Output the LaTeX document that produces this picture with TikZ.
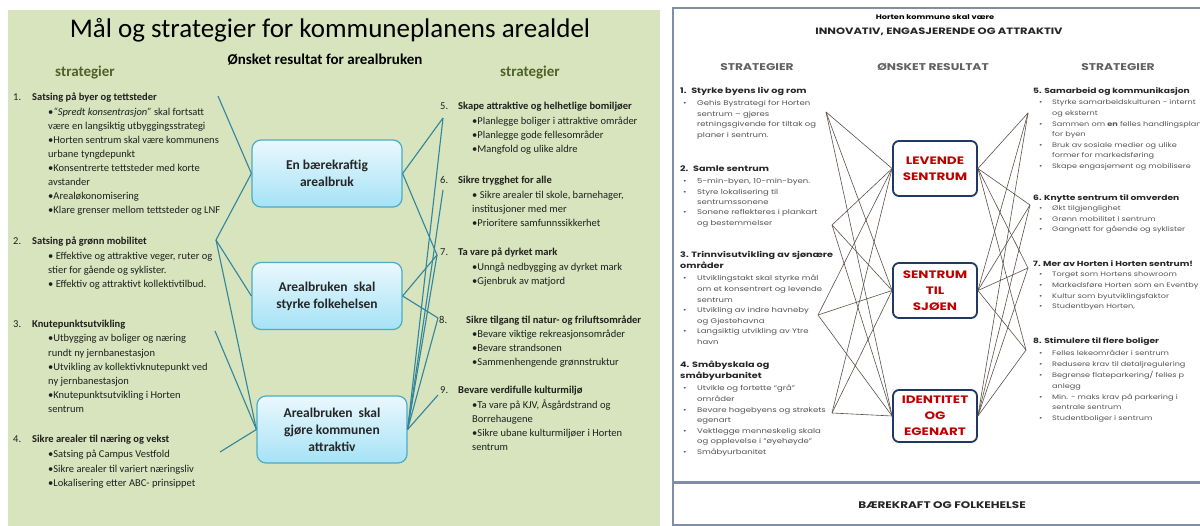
\documentclass[tikz,border=0pt]{standalone}
\usepackage{fontspec}
\setmainfont{Carlito}
\newfontfamily\gothic[FakeStretch=1.25]{Poppins}
\definecolor{bggreen}{HTML}{D7E4BD}
\definecolor{lineteal}{HTML}{31859C}
\definecolor{boxedge}{HTML}{4BACC6}
\definecolor{boxtop}{HTML}{EAF8FD}
\definecolor{boxbot}{HTML}{A5E2F6}
\definecolor{olive}{HTML}{4F6228}
\definecolor{navyedge}{HTML}{1F3864}
\definecolor{redtext}{HTML}{C00000}
\definecolor{brownline}{HTML}{5B4F4A}
\definecolor{framegray}{HTML}{7F8FA9}
\newcommand\tblock[6]{\foreach \t [count=\i] in {#6} {\node[#2] (#1-\i) at (#3,{#4+#5*(\i-1)}) {\t};}}
\newcommand\rblock[6]{\foreach \b/\t [count=\i] in {#6} {\node[rt] (#1-\i) at (#3,{#4+#5*(\i-1)}) {\t};
  \ifnum\b=1 \node[rt] (#1-b\i) at (#2,{#4+#5*(\i-1)}) {•};\fi}}
\tikzset{
  lt/.style={font=\fontsize{10.5}{12}\selectfont, inner sep=0pt, anchor=base west, text=black!88},
  lh/.style={lt, font=\bfseries\fontsize{10.5}{12}\selectfont},
  strat/.style={font=\bfseries\fontsize{15}{17}\selectfont, text=olive, anchor=base, inner sep=0pt},
  abox/.style={draw=boxedge, line width=1.2pt, rounded corners=9pt, top color=boxtop, bottom color=boxbot,
    minimum width=150pt, minimum height=67pt, align=center, font=\bfseries\fontsize{13.5}{17}\selectfont, text=black!85},
  tl/.style={draw=lineteal, line width=1.1pt},
  rt/.style={font=\gothic\fontsize{6.8}{8}\selectfont, inner sep=0pt, anchor=base west, text=black!68},
  rh/.style={font=\gothic\bfseries\fontsize{7.7}{9}\selectfont, inner sep=0pt, anchor=base west, text=black!85},
  rcol/.style={font=\gothic\bfseries\fontsize{9.8}{11}\selectfont, inner sep=0pt, anchor=base, text=black!62},
  rbox/.style={draw=navyedge, line width=1.8pt, rounded corners=6pt, fill=white, minimum width=84pt,
    align=center, text=redtext, font=\gothic\bfseries\fontsize{10.8}{16}\selectfont, inner sep=0pt},
  bl/.style={draw=brownline, line width=0.6pt},
  frame/.style={draw=framegray, line width=1.4pt}
}
\begin{document}
\begin{tikzpicture}[x=1pt,y=-1pt]
\useasboundingbox (0,0) rectangle (1200,526);
% ================= LEFT PANEL =================
\fill[bggreen] (8,10) rectangle (660,526);
\node[font=\fontsize{27}{30}\selectfont, anchor=base, inner sep=0pt] (title) at (330,38) {Mål og strategier for kommuneplanens arealdel};
\node[font=\bfseries\fontsize{15}{18}\selectfont, anchor=base, inner sep=0pt] (sub) at (325,65) {Ønsket resultat for arealbruken};
\node[strat] (sl) at (85,77) {strategier};
\node[strat] (sr) at (530,77) {strategier};

\node[lt] (n1) at (13,101) {1.}; \node[lh] (h1) at (32,101) {Satsing på byer og tettsteder};
\tblock{b1}{lt}{48}{116}{13.9}{{•\textit{“Spredt konsentrasjon”} skal fortsatt},{være en langsiktig utbyggingsstrategi},{•Horten sentrum skal være kommunens},{urbane tyngdepunkt},{•Konsentrerte tettsteder med korte},{avstander},{•Arealøkonomisering},{•Klare grenser mellom tettsteder og LNF}}
\node[lt] (n2) at (13,245) {2.}; \node[lh] (h2) at (32,245) {Satsing på grønn mobilitet};
\tblock{b2}{lt}{48}{260}{14}{{• Effektive og attraktive veger, ruter og},{stier for gående og syklister.},{• Effektiv og attraktivt kollektivtilbud.}}
\node[lt] (n3) at (13,328) {3.}; \node[lh] (h3) at (32,328) {Knutepunktsutvikling};
\tblock{b3}{lt}{48}{342}{14.2}{{•Utbygging av boliger og næring},{rundt ny jernbanestasjon},{•Utvikling av kollektivknutepunkt ved},{ny jernbanestasjon},{•Knutepunktsutvikling i Horten},{sentrum}}
\node[lt] (n4) at (13,443) {4.}; \node[lh] (h4) at (32,443) {Sikre arealer til næring og vekst};
\tblock{b4}{lt}{48}{458}{14}{{•Satsing på Campus Vestfold},{•Sikre arealer til variert næringsliv},{•Lokalisering etter ABC- prinsippet}}

\node[lt] (n5) at (440,110) {5.}; \node[lh] (h5) at (458,110) {Skape attraktive og helhetlige bomiljøer};
\tblock{b5}{lt}{472}{125}{14}{{•Planlegge boliger i attraktive områder},{•Planlegge gode fellesområder},{•Mangfold og ulike aldre}}
\node[lt] (n6) at (440,184) {6.}; \node[lh] (h6) at (458,184) {Sikre trygghet for alle};
\tblock{b6}{lt}{472}{199}{14}{{• Sikre arealer til skole, barnehager,},{institusjoner med mer},{•Prioritere samfunnssikkerhet}}
\node[lt] (n7) at (440,256) {7.}; \node[lh] (h7) at (458,256) {Ta vare på dyrket mark};
\tblock{b7}{lt}{472}{271}{14}{{•Unngå nedbygging av dyrket mark},{•Gjenbruk av matjord}}
\node[lt] (n8) at (439,324) {8.}; \node[lh] (h8) at (466,324) {Sikre tilgang til natur- og friluftsområder};
\tblock{b8}{lt}{472}{338}{14}{{•Bevare viktige rekreasjonsområder},{•Bevare strandsonen},{•Sammenhengende grønnstruktur}}
\node[lt] (n9) at (440,394) {9.}; \node[lh] (h9) at (458,394) {Bevare verdifulle kulturmiljø};
\tblock{b9}{lt}{472}{409}{14}{{•Ta vare på KJV, Åsgårdstrand og},{Borrehaugene},{•Sikre ubane kulturmiljøer i Horten},{sentrum}}

\node[abox] (g1) at (327,173.5) {En bærekraftig\\arealbruk};
\node[abox] (g2) at (327,296) {Arealbruken~ skal\\styrke folkehelsen};
\node[abox] (g3) at (332,429.5) {Arealbruken~ skal\\gjøre kommunen\\attraktiv};

\coordinate (p1) at (218,96);
\coordinate (p2) at (216,240);
\coordinate (p3) at (215,331);
\coordinate (p4) at (220,452);
\coordinate (p5) at (443,118);
\coordinate (p6) at (443,190);
\coordinate (p7) at (437,255);
\coordinate (p8) at (438,318);
\coordinate (p9) at (438,395);
\draw[tl] (p1) -- (g1.west);
\draw[tl] (p2) -- (g1.west);
\draw[tl] (p2) -- (g2.west);
\draw[tl] (p2) -- (g3.west);
\draw[tl] (p3) -- (g3.west);
\draw[tl] (p4) -- (g3.west);
\draw[tl] (g1.east) -- (p5);
\draw[tl] (g1.east) -- (p7);
\draw[tl] (g2.east) -- (p7);
\draw[tl] (g2.east) -- (p8);
\draw[tl] (g3.east) -- (p5);
\draw[tl] (g3.east) -- (p6);
\draw[tl] (g3.east) -- (p7);
\draw[tl] (g3.east) -- (p8);
\draw[tl] (g3.east) -- (p9);

% ================= RIGHT PANEL =================
\draw[frame] (673,8) rectangle (1210,525);
\draw[draw=framegray, line width=3pt] (673,483) -- (1210,483);
\node[font=\gothic\bfseries\fontsize{6.6}{8}\selectfont, anchor=base, inner sep=0pt] (rt1) at (935,20) {Horten kommune skal være};
\node[font=\gothic\bfseries\fontsize{9.2}{11}\selectfont, anchor=base, inner sep=0pt, text=black!85] (rt2) at (939,35) {INNOVATIV, ENGASJERENDE OG ATTRAKTIV};
\node[rcol] (c1) at (757,71) {STRATEGIER};
\node[rcol] (c2) at (933,71) {ØNSKET RESULTAT};
\node[rcol] (c3) at (1118,71) {STRATEGIER};

\node[rh] (r1h) at (680,94) {1.~ Styrke byens liv og rom};
\rblock{r1}{683}{697}{106}{10.4}{1/{Gehis Bystrategi for Horten},0/{sentrum – gjøres},0/{retningsgivende for tiltak og},0/{planer i sentrum.}}
\node[rh] (r2h) at (680,172) {2.~ Samle sentrum};
\rblock{r2}{683}{697}{184}{10.3}{1/{5-min-byen, 10-min-byen.},1/{Styre lokalisering til},0/{sentrumssonene},1/{Sonene reflekteres i plankart},0/{og bestemmelser}}
\tblock{r3h}{rh}{680}{258}{11}{{3. Trinnvisutvikling av sjønære},{områder}}
\rblock{r3}{683}{697}{281}{10.6}{1/{Utviklingstakt skal styrke mål},0/{om et konsentrert og levende},0/{sentrum},1/{Utvikling av indre havneby},0/{og Gjestehavna},1/{Langsiktig utvikling av Ytre},0/{havn}}
\tblock{r4h}{rh}{680}{368}{11}{{4. Småbyskala og},{småbyurbanitet}}
\rblock{r4}{683}{697}{391}{10.6}{1/{Utvikle og fortette “grå”},0/{områder},1/{Bevare hagebyens og strøkets},0/{egenart},1/{Vektlegge menneskelig skala},0/{og opplevelse i “øyehøyde”},1/{Småbyurbanitet}}

\begin{scope}[rt/.style={font=\gothic\fontsize{6.5}{8}\selectfont, inner sep=0pt, anchor=base west, text=black!68},
  rh/.style={font=\gothic\bfseries\fontsize{7.3}{9}\selectfont, inner sep=0pt, anchor=base west, text=black!85}]
\node[rh] (r5h) at (1033,94) {5. Samarbeid og kommunikasjon};
\rblock{r5}{1039}{1052}{105}{10.6}{1/{Styrke samarbeidskulturen - internt},0/{og eksternt},1/{Sammen om \textbf{en} felles handlingsplan},0/{for byen},1/{Bruk av sosiale medier og ulike},0/{former for markedsføring},1/{Skape engasjement og mobilisere}}
\node[rh] (r6h) at (1033,201) {6. Knytte sentrum til omverden};
\rblock{r6}{1039}{1052}{211}{10.5}{1/{Økt tilgjenglighet},1/{Grønn mobilitet i sentrum},1/{Gangnett for gående og syklister}}
\node[rh] (r7h) at (1033,267) {7. Mer av Horten i Horten sentrum!};
\rblock{r7}{1039}{1052}{277}{10.6}{1/{Torget som Hortens showroom},1/{Markedsføre Horten som en Eventby},1/{Kultur som byutviklingsfaktor},1/{Studentbyen Horten,}}
\node[rh] (r8h) at (1033,344) {8. Stimulere til flere boliger};
\rblock{r8}{1039}{1052}{356}{10.8}{1/{Felles lekeområder i sentrum},1/{Redusere krav til detaljregulering},1/{Begrense flateparkering/ felles p},0/{anlegg},1/{Min. - maks krav på parkering i},0/{sentrale sentrum},1/{Studentboliger i sentrum}}
\end{scope}

\node[rbox, minimum height=55pt] (ra) at (935,168.5) {LEVENDE\\SENTRUM};
\node[rbox, minimum height=55pt] (rb) at (935,290.5) {SENTRUM\\TIL\\SJØEN};
\node[rbox, minimum height=52pt] (rc) at (935,416) {IDENTITET\\OG\\EGENART};

\coordinate (q1) at (826,112);
\coordinate (q2) at (832,225);
\coordinate (q3) at (818,315);
\coordinate (q4) at (832,413);
\coordinate (q5) at (1028,113);
\coordinate (q6) at (1030,205);
\coordinate (q7) at (1028,268);
\coordinate (q8) at (1026,350);
\foreach \q in {q1,q2,q3,q4} {\foreach \r in {ra,rb,rc} {\draw[bl] (\q) -- (\r.west);}}
\foreach \q in {q5,q6,q7,q8} {\foreach \r in {ra,rb,rc} {\draw[bl] (\r.east) -- (\q);}}

\node[font=\gothic\bfseries\fontsize{9.6}{11}\selectfont, anchor=base, inner sep=0pt, text=black!85] (bottom) at (942,508) {BÆREKRAFT OG FOLKEHELSE};
\end{tikzpicture}
\end{document}
